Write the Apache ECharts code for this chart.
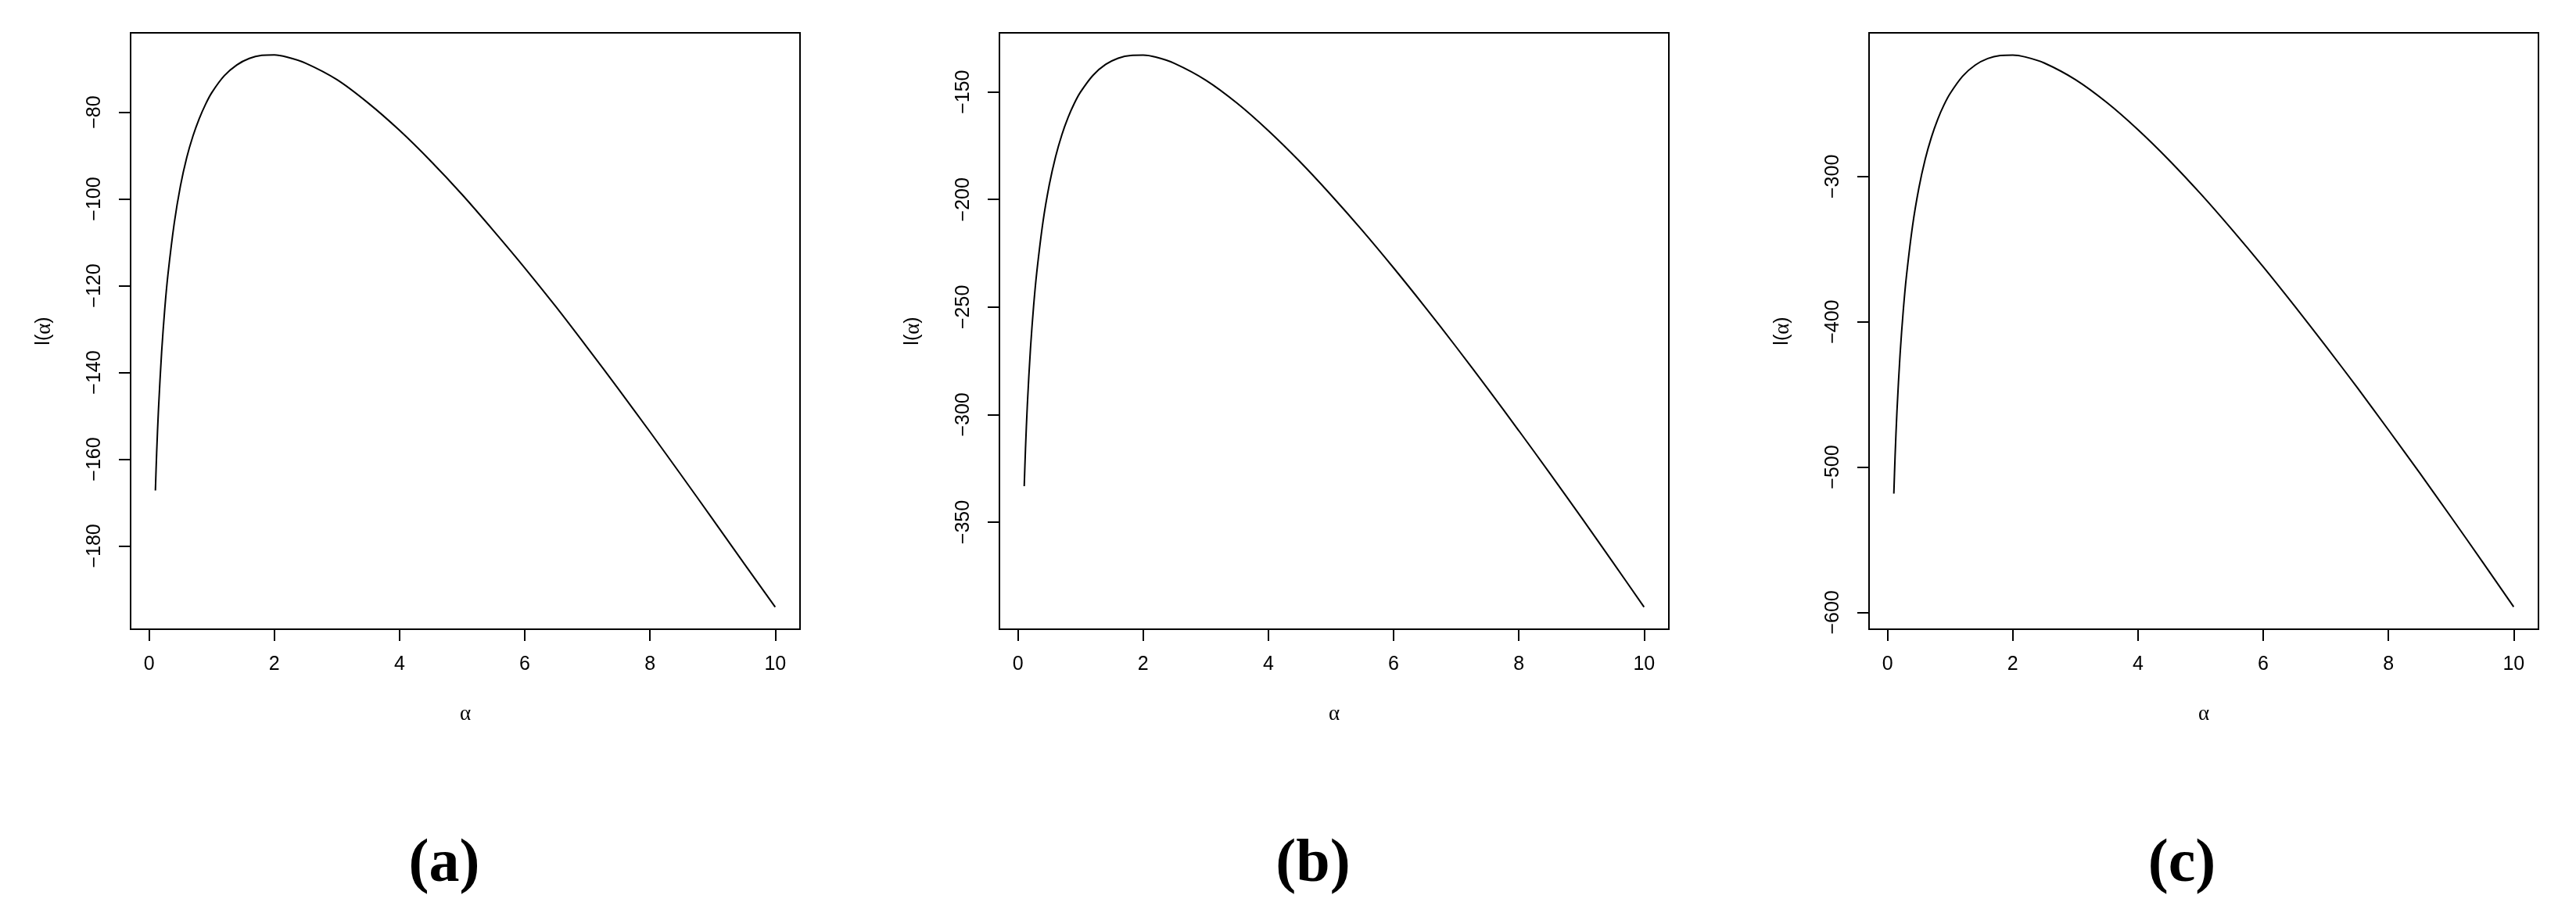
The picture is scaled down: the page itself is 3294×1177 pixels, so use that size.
<!DOCTYPE html>
<html>
<head>
<meta charset="utf-8">
<script src="https://cdn.jsdelivr.net/npm/echarts@6/dist/echarts.min.js"></script>
<style>
  html, body { margin: 0; padding: 0; background: #fff; }
  #chart { width: 3294px; height: 1177px; }
</style>
</head>
<body>
<div id="chart"></div>
<script>
// alpha grid shared by the three panels
const alphaValues = [0.1, 0.12, 0.15, 0.2, 0.25, 0.3, 0.4, 0.5, 0.6, 0.7, 0.8, 0.9, 1.0, 1.2, 1.4, 1.6, 1.8, 2.0, 2.2, 2.5,
  3.0, 3.5, 4.0, 4.5, 5.0, 5.5, 6.0, 6.5, 7.0, 7.5, 8.0, 8.5, 9.0, 9.5, 10.0]

// l(alpha)
const logLikA = [-167.2, -158.6, -148.3, -135.2, -125.3, -117.5, -105.7, -97.0, -90.5, -85.5, -81.5, -78.2, -75.5, -71.6, -69.1, -67.6, -66.9, -66.8, -67.3, -68.7,
  -72.5, -77.9, -84.2, -91.3, -99.0, -107.3, -115.9, -124.9, -134.3, -143.9, -153.7, -163.7, -173.8, -184.0, -194.1]
const logLikB = [-333.3, -316.1, -295.3, -269.2, -249.5, -233.9, -210.3, -193.2, -180.2, -170.0, -161.9, -155.3, -150.0, -142.2, -137.2, -134.3, -133.0, -132.9, -133.8, -136.7,
  -144.5, -155.2, -168.0, -182.3, -197.9, -214.4, -231.8, -249.9, -268.6, -287.8, -307.5, -327.5, -347.9, -368.6, -389.5]
const logLikC = [-518.3, -492.5, -461.3, -422.1, -392.5, -369.0, -333.6, -307.9, -288.3, -273.0, -260.7, -250.8, -242.8, -230.9, -223.3, -218.8, -216.7, -216.4, -217.7, -221.8,
  -233.3, -249.0, -267.8, -288.9, -311.9, -336.5, -362.2, -389.1, -416.8, -445.2, -474.4, -504.1, -534.4, -565.1, -596.2]

const xTicks = [0, 2, 4, 6, 8, 10]
const yTicksA = [-180, -160, -140, -120, -100, -80]
const yTicksB = [-350, -300, -250, -200, -150]
const yTicksC = [-600, -500, -400, -300]
const panelLabels = ['(a)', '(b)', '(c)']

const panels = [
  { data: logLikA, ticks: yTicksA, min: -199.2, max: -61.7 },
  { data: logLikB, ticks: yTicksB, min: -399.8, max: -122.5 },
  { data: logLikC, ticks: yTicksC, min: -611.6, max: -201.1 },
]

const panelLeft = [167, 1278, 2390]
const labelCenter = [568, 1679, 2790]

const chart = echarts.init(document.getElementById('chart'))

const minus = (v) => String(v).replace('-', '\u2212')

const option = {
  animation: false,
  backgroundColor: '#fff',
  grid: panels.map((p, i) => ({
    left: panelLeft[i],
    top: 42,
    width: 856,
    height: 763,
    show: true,
    borderColor: '#000',
    borderWidth: 2,
    backgroundColor: 'transparent',
  })),
  xAxis: panels.map((p, i) => ({
    type: 'value',
    gridIndex: i,
    min: -0.296,
    max: 10.396,
    name: 'α',
    nameLocation: 'middle',
    nameGap: 95,
    nameTextStyle: { fontFamily: 'Liberation Serif', fontSize: 27, color: '#000' },
    axisLine: { show: true, onZero: false, lineStyle: { color: '#000', width: 2 } },
    axisTick: { show: true, length: 15, lineStyle: { color: '#000', width: 2 }, customValues: xTicks },
    axisLabel: { color: '#000', fontFamily: 'Liberation Sans', fontSize: 25, margin: 33, customValues: xTicks },
    splitLine: { show: false },
  })),
  yAxis: panels.map((p, i) => ({
    type: 'value',
    gridIndex: i,
    min: p.min,
    max: p.max,
    name: 'l({a|α})',
    nameLocation: 'middle',
    nameRotate: 90,
    nameGap: 97,
    nameTextStyle: {
      fontFamily: 'Liberation Sans',
      fontSize: 25,
      color: '#000',
      rich: { a: { fontFamily: 'Liberation Serif', fontSize: 27, color: '#000' } },
    },
    axisLine: { show: true, onZero: false, lineStyle: { color: '#000', width: 2 } },
    axisTick: { show: true, length: 15, lineStyle: { color: '#000', width: 2 }, customValues: p.ticks },
    axisLabel: {
      color: '#000',
      fontFamily: 'Liberation Sans',
      fontSize: 25,
      rotate: 90,
      margin: 33,
      customValues: p.ticks,
      formatter: minus,
    },
    splitLine: { show: false },
  })),
  series: panels.map((p, i) => ({
    type: 'line',
    xAxisIndex: i,
    yAxisIndex: i,
    showSymbol: false,
    smooth: 0.3,
    lineStyle: { color: '#000', width: 2 },
    data: alphaValues.map((a, k) => [a, p.data[k]]),
  })),
  graphic: panelLabels.map((t, i) => ({
    type: 'text',
    x: labelCenter[i],
    y: 1107,
    style: {
      text: t,
      align: 'center',
      verticalAlign: 'middle',
      font: 'bold 78px "Liberation Serif"',
      fill: '#000',
    },
  })),
}

chart.setOption(option)
</script>
</body>
</html>
